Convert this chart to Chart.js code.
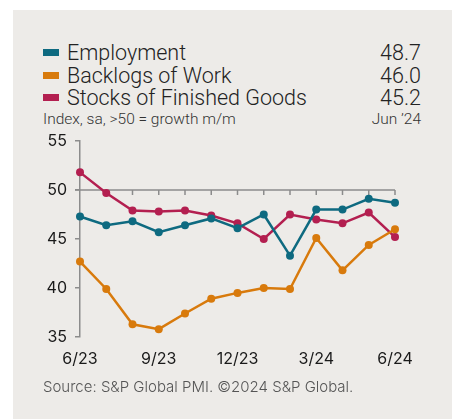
<!DOCTYPE html>
<html>
<head>
<meta charset="utf-8">
<script src="https://cdn.jsdelivr.net/npm/chart.js@4/dist/chart.umd.min.js"></script>
<style>
  body { margin: 0; background: #fff; width: 454px; height: 419px; overflow: hidden; font-family: Inter, "Noto Sans", sans-serif; }
  #panel { position: absolute; left: 13px; top: 10px; width: 439px; height: 409px; background: #edebe8; }
  #chart { position: absolute; left: 0; top: 0; }
  .row { position: absolute; left: 43px; width: 378px; height: 23px; line-height: 23px; font-family: Roboto, Inter, sans-serif; font-size: 21.5px; font-weight: 300; color: #222; }
  .row .sw { position: absolute; left: 0; top: 8px; width: 16px; height: 7px; }
  .row .name { position: absolute; left: 24px; }
  .row .val { position: absolute; right: 0; }
  #sub { position: absolute; left: 43px; width: 378px; top: 110px; font-family: Roboto, Inter, sans-serif; font-size: 15.5px; font-weight: 300; color: #333; }
  #sub span { position: absolute; right: 0; }
  #source { position: absolute; left: 43px; top: 377px; font-size: 15px; font-weight: 300; color: #555; }
</style>
</head>
<body>
<div id="panel"></div>
<div id="legend"></div>
<div id="sub">Index, sa, &gt;50 = growth m/m<span>Jun ’24</span></div>
<canvas id="chart" width="454" height="419"></canvas>
<div id="source">Source: S&amp;P Global PMI. ©2024 S&amp;P Global.</div>
<script>
const months = ["6/23", "7/23", "8/23", "9/23", "10/23", "11/23", "12/23", "1/24", "2/24", "3/24", "4/24", "5/24", "6/24"];
const shownTicks = ["6/23", "9/23", "12/23", "3/24", "6/24"];

const employment = [47.3, 46.4, 46.8, 45.7, 46.4, 47.1, 46.1, 47.5, 43.3, 48.0, 48.0, 49.1, 48.7];
const backlogs = [42.7, 39.9, 36.3, 35.8, 37.4, 38.9, 39.5, 40.0, 39.9, 45.1, 41.8, 44.4, 46.0];
const stocks = [51.8, 49.7, 47.9, 47.8, 47.9, 47.4, 46.6, 45.0, 47.5, 47.0, 46.6, 47.7, 45.2];

const seriesNames = ["Employment", "Backlogs of Work", "Stocks of Finished Goods"];
const seriesColors = ["#0e6a80", "#d87a0c", "#b31f50"];
const latest = ["48.7", "46.0", "45.2"];

// legend rows (html)
const legend = document.getElementById("legend");
seriesNames.forEach((name, i) => {
  const row = document.createElement("div");
  row.className = "row";
  row.style.top = (41 + i * 22.5) + "px";
  row.innerHTML = `<div class="sw" style="background:${seriesColors[i]}"></div><span class="name">${name}</span><span class="val">${latest[i]}</span>`;
  legend.appendChild(row);
});

// line at 50 with month ticks hanging below it
const fiftyLine = {
  id: "fiftyLine",
  beforeDatasetsDraw(chart) {
    const { ctx, scales: { x, y } } = chart;
    const yy = y.getPixelForValue(50);
    ctx.save();
    ctx.strokeStyle = "#8c8c8c";
    ctx.lineWidth = 1.5;
    ctx.beginPath();
    ctx.moveTo(x.getPixelForValue(0) - 5, yy);
    ctx.lineTo(x.getPixelForValue(months.length - 1), yy);
    for (let i = 1; i < months.length; i++) {
      const xx = x.getPixelForValue(i);
      ctx.moveTo(xx, yy);
      ctx.lineTo(xx, yy + 5);
    }
    ctx.stroke();
    ctx.restore();
  }
};

const mk = (i, data) => ({
  label: seriesNames[i],
  data: data,
  borderColor: seriesColors[i],
  backgroundColor: seriesColors[i],
  borderWidth: 2.5,
  pointRadius: 4,
  pointBorderWidth: 0,
  pointHoverRadius: 4,
  tension: 0,
  clip: false
});

new Chart(document.getElementById("chart"), {
  type: "line",
  data: {
    labels: months,
    datasets: [mk(0, employment), mk(1, backlogs), mk(2, stocks)]
  },
  options: {
    responsive: false,
    animation: false,
    layout: { padding: { left: 0, top: 141, right: 59, bottom: 42 } },
    plugins: { legend: { display: false }, tooltip: { enabled: false } },
    scales: {
      x: {
        offset: false,
        grid: { display: false, drawTicks: false },
        border: { display: false },
        ticks: {
          autoSkip: false,
          maxRotation: 0,
          padding: 13,
          color: "#1a1a1a",
          font: { family: "Inter", size: 16 },
          callback: function (v) {
            const lab = this.getLabelForValue(v);
            return shownTicks.includes(lab) ? lab : "";
          }
        },
        afterFit: s => { s.height = 40; s.paddingLeft = 0; s.paddingRight = 0; }
      },
      y: {
        min: 35,
        max: 55,
        ticks: { stepSize: 5, padding: 8, color: "#1a1a1a", font: { family: "Inter", size: 16 } },
        grid: { drawOnChartArea: false, drawTicks: true, tickLength: 5, color: "#8c8c8c", lineWidth: 1.5 },
        border: { display: true, color: "#8c8c8c", width: 1.5 },
        afterFit: s => { s.width = 80; s.paddingTop = 0; s.paddingBottom = 0; }
      }
    }
  },
  plugins: [fiftyLine]
});
</script>
</body>
</html>
